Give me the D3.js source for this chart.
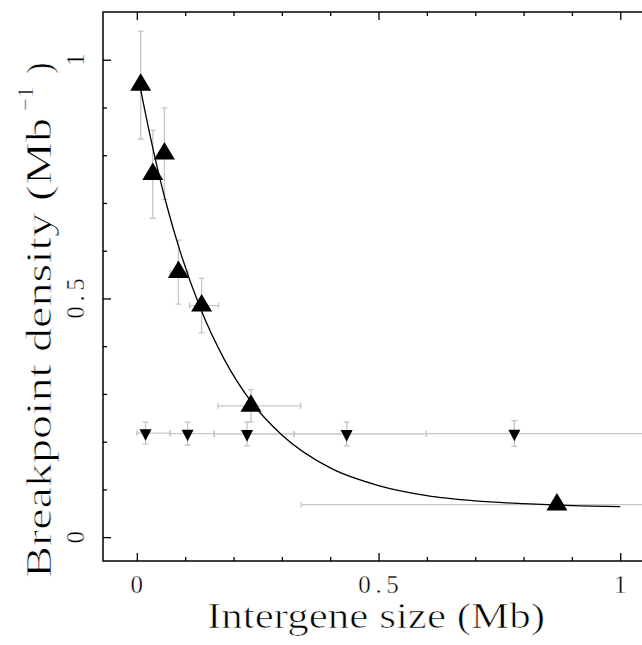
<!DOCTYPE html>
<html>
<head>
<meta charset="utf-8">
<script src="https://cdn.jsdelivr.net/npm/d3@7"></script>
<style>
  body { margin: 0; background: #fff; }
  svg { display: block; }
  text { font-family: "Liberation Serif", "DejaVu Serif", serif; fill: #000; stroke: #fff; paint-order: normal; }
</style>
</head>
<body>
<div id="chart"></div>
<script>
// up triangles: binned by intergene size
const upX    = [0.008, 0.033, 0.057, 0.086, 0.134, 0.236, 0.869];
const upY    = [0.947, 0.760, 0.803, 0.555, 0.485, 0.275, 0.068];
const upYErr = [0.113, 0.092, 0.096, 0.067, 0.057, 0.034, 0];
const upXLo  = [0.008, 0.033, 0.057, 0.069, 0.109, 0.168, 0.340];
const upXHi  = [0.008, 0.033, 0.057, 0.106, 0.169, 0.339, 1.400];

// down triangles
const downX    = [0.018, 0.105, 0.228, 0.434, 0.781];
const downY    = [0.218, 0.217, 0.216, 0.216, 0.217];
const downYErr = [0.023, 0.024, 0.025, 0.025, 0.027];
const downXLo  = [0.000, 0.069, 0.160, 0.325, 0.599];
const downXHi  = [0.069, 0.160, 0.325, 0.599, 1.400];

// fitted curve
const fitX = [0.008, 0.03, 0.06, 0.09, 0.13, 0.18, 0.24, 0.3, 0.4, 0.5, 0.6, 0.7, 0.8, 0.9, 1.0];
const fitY = [0.937, 0.829, 0.702, 0.597, 0.483, 0.374, 0.279, 0.214, 0.145, 0.108, 0.087, 0.076, 0.070, 0.066, 0.064];

const xTicks = [0, 0.1, 0.2, 0.3, 0.4, 0.5, 0.6, 0.7, 0.8, 0.9, 1];
const yTicks = [0, 0.1, 0.2, 0.3, 0.4, 0.5, 0.6, 0.7, 0.8, 0.9, 1];
const xLabels = [0, 0.5, 1];
const yLabels = [0, 0.5, 1];

const W = 642, H = 645;
const mLeft = 103, mTop = 12, mBottom = 561;

const x = d3.scaleLinear().domain([-0.07, 1.045]).range([mLeft, W]);
const y = d3.scaleLinear().domain([-0.05, 1.1]).range([mBottom, mTop]);

const svg = d3.select("#chart").append("svg")
    .attr("width", W)
    .attr("height", H);

svg.append("defs").append("clipPath").attr("id", "plot")
  .append("rect").attr("x", mLeft).attr("y", mTop).attr("width", W - mLeft).attr("height", mBottom - mTop);

const isMajor = v => xLabels.includes(v);

// ticks (inward), via d3 axes
svg.append("g").attr("transform", `translate(0,${mBottom})`)
    .call(d3.axisBottom(x).tickValues(xTicks).tickFormat("").tickSizeOuter(0))
    .call(g => g.select(".domain").remove())
    .call(g => g.selectAll(".tick line").attr("y2", d => isMajor(d) ? -8 : -4));
svg.append("g").attr("transform", `translate(0,${mTop})`)
    .call(d3.axisTop(x).tickValues(xTicks).tickFormat("").tickSizeOuter(0))
    .call(g => g.select(".domain").remove())
    .call(g => g.selectAll(".tick line").attr("y2", d => isMajor(d) ? 8 : 4));
svg.append("g").attr("transform", `translate(${mLeft},0)`)
    .call(d3.axisLeft(y).tickValues(yTicks).tickFormat("").tickSizeOuter(0))
    .call(g => g.select(".domain").remove())
    .call(g => g.selectAll(".tick line").attr("x2", d => yLabels.includes(d) ? 8 : 4));
svg.selectAll(".tick line").attr("stroke", "#000").attr("stroke-width", 1.3);

// frame
svg.append("path")
    .attr("d", `M${W},${mTop}H${mLeft}V${mBottom}H${W}`)
    .attr("fill", "none").attr("stroke", "#000").attr("stroke-width", 1.5);

// tick labels
const labelText = sel => sel
    .attr("text-anchor", "middle")
    .attr("font-size", 25)
    .attr("stroke-width", 0.4)
    .each(function(d) {
      const s = String(d);
      if (s.length > 1) d3.select(this).attr("textLength", 13.5 * s.length).attr("lengthAdjust", "spacing");
    })
    .text(d => d);
svg.append("g").selectAll("text").data(xLabels).join("text")
    .attr("x", d => x(d)).attr("y", 593)
    .call(labelText);
svg.append("g").selectAll("text").data(yLabels).join("text")
    .attr("transform", d => `translate(84,${y(d)}) rotate(-90)`)
    .call(labelText);

// axis titles
svg.append("text")
    .attr("x", 207).attr("y", 628)
    .attr("font-size", 35)
    .attr("stroke-width", 0.7)
    .attr("textLength", 338).attr("lengthAdjust", "spacingAndGlyphs")
    .text("Intergene size (Mb)");

const yt = svg.append("g").attr("transform", "translate(51,578) rotate(-90)")
    .attr("stroke-width", 0.7);
yt.append("text").attr("x", 0).attr("y", 0)
    .attr("font-size", 35)
    .attr("textLength", 460).attr("lengthAdjust", "spacingAndGlyphs")
    .text("Breakpoint density (Mb");
yt.append("text").attr("x", 467).attr("y", -18)
    .attr("font-size", 23)
    .attr("stroke-width", 0.5)
    .text("\u22121");
yt.append("text").attr("x", 504).attr("y", 0)
    .attr("font-size", 35)
    .text(")");

const plot = svg.append("g").attr("clip-path", "url(#plot)");
const grey = "#c6c6c6";

const ups = upX.map((v, i) => ({x: v, y: upY[i], e: upYErr[i], lo: upXLo[i], hi: upXHi[i]}));
const downs = downX.map((v, i) => ({x: v, y: downY[i], e: downYErr[i], lo: downXLo[i], hi: downXHi[i]}));

function errBars(g, data) {
  const vb = data.filter(d => d.e > 0);
  g.selectAll(null).data(vb).join("path")
      .attr("d", d => {
        const cx = x(d.x), y1 = y(d.y + d.e), y2 = y(d.y - d.e);
        return `M${cx},${y1}V${y2}M${cx - 3},${y1}H${cx + 3}M${cx - 3},${y2}H${cx + 3}`;
      });
  const hb = data.filter(d => d.hi > d.lo);
  g.selectAll(null).data(hb).join("path")
      .attr("d", d => {
        const cy = y(d.y), x1 = x(d.lo), x2 = x(d.hi);
        return `M${x1},${cy}H${x2}M${x1},${cy - 3}V${cy + 3}M${x2},${cy - 3}V${cy + 3}`;
      });
}

const eg = plot.append("g").attr("fill", "none").attr("stroke", grey).attr("stroke-width", 1.3);
errBars(eg, downs);
errBars(eg, ups);

// fitted curve
plot.append("path")
    .datum(fitX.map((v, i) => [v, fitY[i]]))
    .attr("fill", "none").attr("stroke", "#000").attr("stroke-width", 1.3)
    .attr("d", d3.line().x(d => x(d[0])).y(d => y(d[1])).curve(d3.curveMonotoneX));

// markers
plot.append("g").selectAll("path").data(ups).join("path")
    .attr("transform", d => `translate(${x(d.x)},${y(d.y)})`)
    .attr("d", "M0,-11.7L10.5,5.8L-10.5,5.8Z")
    .attr("fill", "#000");
plot.append("g").selectAll("path").data(downs).join("path")
    .attr("transform", d => `translate(${x(d.x)},${y(d.y)})`)
    .attr("d", "M-6,-3.9L6,-3.9L0,7.8Z")
    .attr("fill", "#000");
</script>
</body>
</html>
